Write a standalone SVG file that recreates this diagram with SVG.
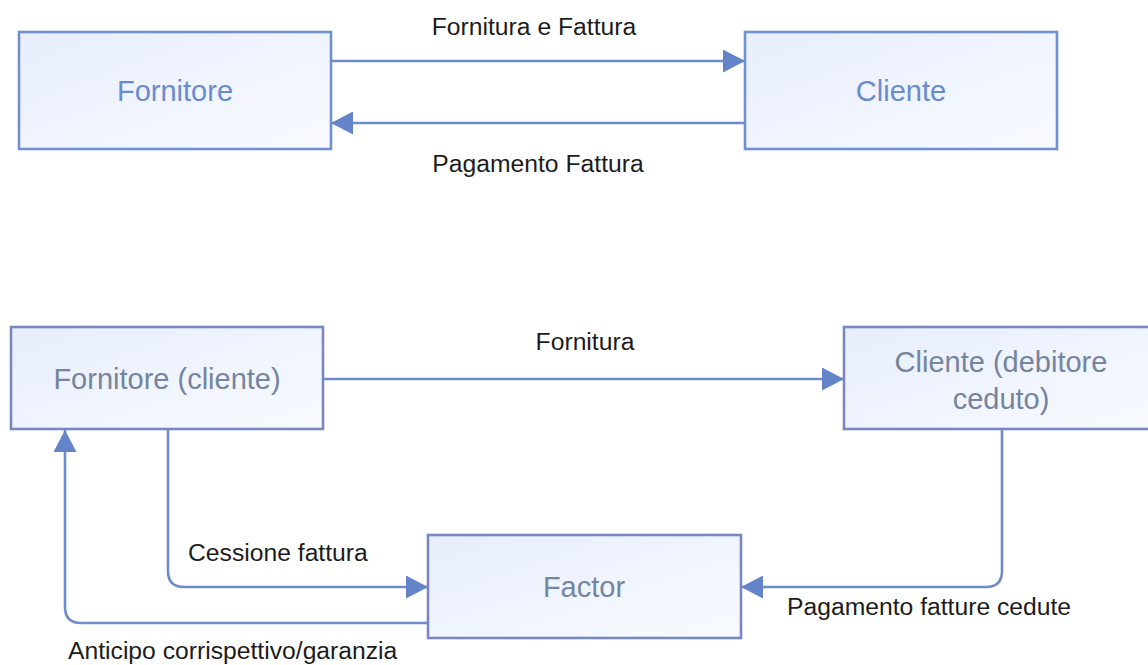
<svg xmlns="http://www.w3.org/2000/svg" width="1148" height="665" viewBox="0 0 1148 665">
  <defs>
    <linearGradient id="boxFill" x1="0" y1="0" x2="1" y2="1">
      <stop offset="0" stop-color="#e7eefc"/>
      <stop offset="1" stop-color="#f8faff"/>
    </linearGradient>
    <marker id="arrow" markerUnits="userSpaceOnUse" markerWidth="23" markerHeight="23" refX="22" refY="11.5" orient="auto" viewBox="0 0 23 23">
      <path d="M0,0 L22,11.5 L0,23 z" fill="#6384c8"/>
    </marker>
    <style>
      .box1 { fill: url(#boxFill); stroke: #7090cf; stroke-width: 2.6; }
      .box2 { fill: url(#boxFill); stroke: #7a88bf; stroke-width: 2.6; }
      .t1 { font-family: "Liberation Sans", Arial, sans-serif; font-size: 29px; fill: #6a8bd0; text-anchor: middle; }
      .t2 { font-family: "Liberation Sans", Arial, sans-serif; font-size: 29px; fill: #75849f; text-anchor: middle; }
      .lbl { font-family: "Liberation Sans", Arial, sans-serif; font-size: 24.7px; fill: #1c1c1c; }
      .conn { fill: none; stroke: #6f8cca; stroke-width: 2.6; marker-end: url(#arrow); }
    </style>
  </defs>
  <rect width="1148" height="665" fill="#ffffff"/>

  <g id="connectors">
    <path class="conn" d="M331,61 L745,61"/>
    <path class="conn" d="M745,123 L331,123"/>
    <path class="conn" d="M323,379 L844,379"/>
    <path class="conn" d="M168,429 L168,571 Q168,587 184,587 L428,587"/>
    <path class="conn" d="M428,623 L81,623 Q65,623 65,607 L65,430"/>
    <path class="conn" d="M1002,429 L1002,571 Q1002,587 986,587 L741,587"/>
    <text class="lbl" x="534" y="35" text-anchor="middle">Fornitura e Fattura</text>
    <text class="lbl" x="538" y="172" text-anchor="middle">Pagamento Fattura</text>
    <text class="lbl" x="585" y="350" text-anchor="middle">Fornitura</text>
    <text class="lbl" x="188" y="561">Cessione fattura</text>
    <text class="lbl" x="787" y="615">Pagamento fatture cedute</text>
    <text class="lbl" x="68" y="659">Anticipo corrispettivo/garanzia</text>
  </g>

  <g id="fornitore">
    <rect class="box1" x="19" y="32" width="312" height="117"/>
    <text class="t1" x="175" y="101">Fornitore</text>
  </g>
  <g id="cliente">
    <rect class="box1" x="745" y="32" width="312" height="117"/>
    <text class="t1" x="901" y="101">Cliente</text>
  </g>
  <g id="fornitore-cliente">
    <rect class="box2" x="11" y="327" width="312" height="102"/>
    <text class="t2" x="167" y="389">Fornitore (cliente)</text>
  </g>
  <g id="cliente-debitore">
    <rect class="box2" x="844" y="327" width="312" height="102"/>
    <text class="t2" x="1001" y="372">Cliente (debitore</text>
    <text class="t2" x="1001" y="409">ceduto)</text>
  </g>
  <g id="factor">
    <rect class="box2" x="428" y="535" width="313" height="103"/>
    <text class="t2" x="584" y="597">Factor</text>
  </g>
</svg>
